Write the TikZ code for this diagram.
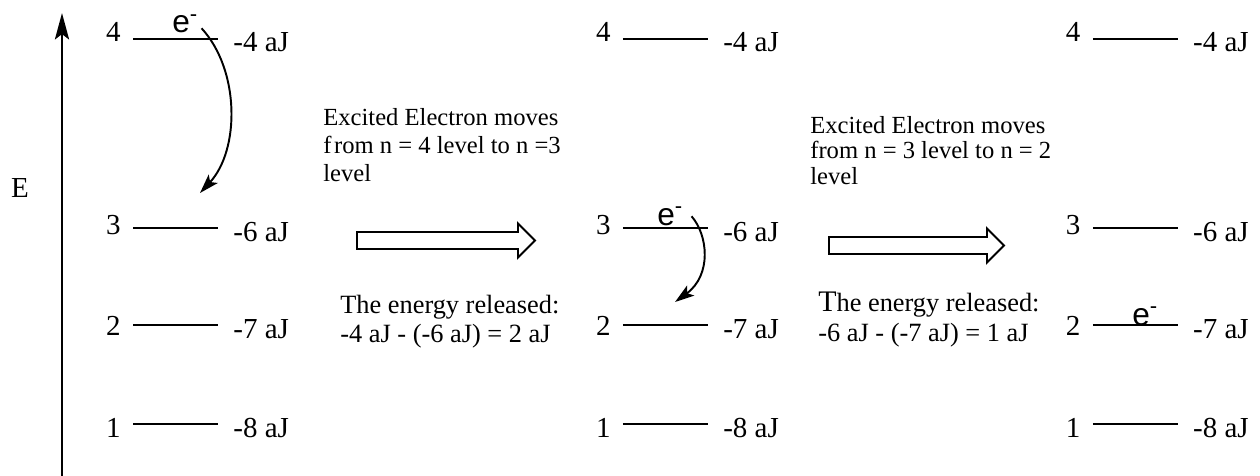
\documentclass[tikz,border=0pt]{standalone}
\usepackage{fontspec}
\setmainfont{Liberation Serif}
\newfontfamily\arialfont{Liberation Sans}
\usetikzlibrary{arrows.meta}

\begin{document}
\begin{tikzpicture}[x=0.02cm,y=-0.02cm,
  font=\fontsize{16.5}{18}\selectfont,
  lvl/.style={line width=1.2pt},
  num/.style={inner sep=0pt,anchor=base east},
  nrg/.style={inner sep=0pt,anchor=base west},
  elec/.style={inner sep=0pt,anchor=base west,font=\arialfont\fontsize{18}{18}\selectfont},
  jump/.style={line width=1.1pt,-{Stealth[length=11pt,width=7pt,inset=2.5pt]}},
  note/.style={inner sep=0pt,anchor=north west,align=left},
  fat/.style={line width=1.1pt,line join=miter}]
  \useasboundingbox (0,0) rectangle (1260,476);
  % energy axis
  \coordinate (ax0) at (62,476);
  \coordinate (ax1) at (62,13);
  \draw[line width=1.7pt,-{Stealth[length=15pt,width=8pt,inset=3pt]}] (ax0) -- (ax1);
  \node (E) at (20,188) {E};
  % the same four levels, three times
  \foreach \col/\sh in {a/0,b/9.8,c/19.2}{
    \begin{scope}[xshift=\sh cm]
      \foreach \lv/\yy/\en/\dy in {4/39/-4/3,3/228/-6/7,2/325/-7/10,1/424/-8/13}{
        \coordinate (\col\lv w) at (133,\yy);
        \coordinate (\col\lv e) at (218,\yy);
        \draw[lvl] (\col\lv w) -- (\col\lv e);
        \node[num] (\col\lv n) at (121,\yy+\dy) {\lv};
        \node[nrg] (\col\lv v) at (233,\yy+13) {\en\ aJ};
      }
    \end{scope}
  }
  % electron
  \node[elec] (ea) at (172,33) {e\textsuperscript{-}};
  \node[elec] (eb) at (657,225) {e\textsuperscript{-}};
  \node[elec] (ec) at (1132,325) {e\textsuperscript{-}};
  \coordinate (ta) at (200,193);
  \coordinate (tb) at (675,302);
  \draw[jump] ([shift={(3,4)}]ea.east) .. controls (240,70) and (240,150) .. (ta);
  \draw[jump] ([shift={(8,0)}]eb.east) .. controls (708,235) and (712,275) .. (tb);
  % explanations
  \node[note,font=\fontsize{14}{15.9}\selectfont] (t1) at (323,108) {Excited Electron moves\\f\kern1.5pt rom n = 4 level to n =3\\level};
  \node[note,font=\fontsize{15}{16.4}\selectfont] (t2) at (340,295) {The energy released:\\-4 aJ - (-6 aJ) = 2 aJ};
  \node[note,font=\fontsize{14}{14.5}\selectfont] (t3) at (810,116) {Excited Electron moves\\from n = 3 level to n = 2\\level};
  \node[note,font=\fontsize{15}{17}\selectfont] (t4) at (818,292) {{\fontsize{17}{17}\selectfont T}he energy released:\\-6 aJ - (-7 aJ) = 1 aJ};
  % hollow arrows
  \foreach \xa/\xb/\ym in {357/518/240.5,829/987/245.5}
    \draw[fat] (\xa,\ym-8.5) -- (\xb,\ym-8.5) -- (\xb,\ym-17) -- (\xb+17,\ym)
      -- (\xb,\ym+17) -- (\xb,\ym+8.5) -- (\xa,\ym+8.5) -- cycle;
\end{tikzpicture}
\end{document}
